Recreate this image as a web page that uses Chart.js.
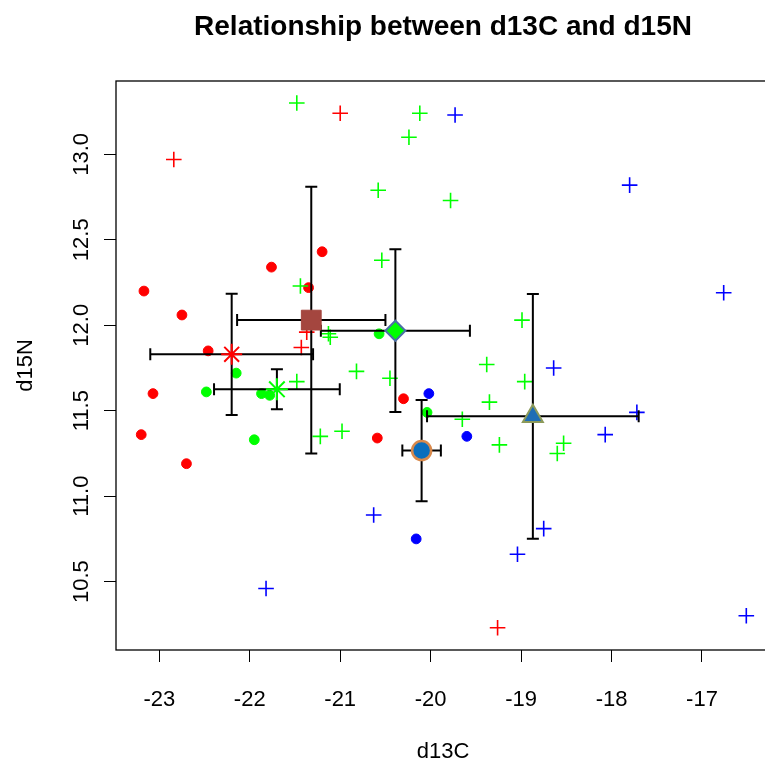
<!DOCTYPE html>
<html>
<head>
<meta charset="utf-8">
<script src="https://cdn.jsdelivr.net/npm/chart.js@4.4.1/dist/chart.umd.min.js"></script>
<style>
  html, body { margin: 0; padding: 0; background: #fff; overflow: hidden; }
  /* the plot box runs past the right edge of the picture, as in the original */
  #wrap { width: 765px; height: 766px; overflow: hidden; }
  #isoChart { display: block; }
</style>
</head>
<body>
<div id="wrap"><canvas id="isoChart" width="785" height="766"></canvas></div>
<script>
// raw samples, [d13C, d15N]
const redDots = [[-21.20, 12.43], [-21.76, 12.34], [-21.35, 12.22], [-23.17, 12.20], [-22.75, 12.06],
  [-22.46, 11.85], [-23.07, 11.60], [-20.30, 11.57], [-20.59, 11.34], [-23.20, 11.36], [-22.70, 11.19]];
const greenDots = [[-22.15, 11.72], [-21.87, 11.60], [-21.78, 11.59], [-22.48, 11.61], [-21.95, 11.33],
  [-20.57, 11.95], [-20.04, 11.49]];
const blueDots = [[-20.02, 11.60], [-19.60, 11.35], [-20.16, 10.75]];
const redPlus = [[-21.00, 13.24], [-22.84, 12.97], [-21.37, 11.96], [-21.43, 11.87], [-19.26, 10.23]];
const greenPlus = [[-21.48, 13.30], [-20.12, 13.24], [-20.24, 13.10], [-20.58, 12.79], [-19.78, 12.73],
  [-20.54, 12.38], [-21.44, 12.23], [-21.13, 11.95], [-21.11, 11.93], [-18.99, 12.03], [-20.82, 11.73],
  [-20.45, 11.69], [-21.48, 11.67], [-21.22, 11.35], [-20.98, 11.38], [-19.38, 11.77], [-18.96, 11.67],
  [-19.35, 11.55], [-19.65, 11.45], [-19.24, 11.30], [-18.53, 11.31], [-18.60, 11.25]];
const bluePlus = [[-19.73, 13.23], [-17.80, 12.82], [-16.76, 12.19], [-18.64, 11.75], [-17.72, 11.49],
  [-18.07, 11.36], [-20.63, 10.89], [-18.75, 10.81], [-19.04, 10.66], [-21.82, 10.46], [-16.51, 10.30]];

// group means with +/- 1 sd
const centroidNames = ['red mean', 'green mean', 'blue mean', 'group A', 'group B', 'group C'];
const centroidX = [-22.20, -21.70, -20.10, -21.32, -20.39, -18.87];
const centroidY = [11.83, 11.625, 11.267, 12.03, 11.968, 11.467];
const sdX = [0.90, 0.695, 0.213, 0.82, 0.824, 1.17];
const sdY = [0.355, 0.117, 0.296, 0.78, 0.476, 0.716];

const xTicks = [-23, -22, -21, -20, -19, -18, -17];
const yTicks = [10.5, 11.0, 11.5, 12.0, 12.5, 13.0];

const FONT = "'Liberation Sans', Arial, sans-serif";
const pts = arr => arr.map(([x, y]) => ({ x, y }));
const one = i => [{ x: centroidX[i], y: centroidY[i] }];

const raw = (label, data, color, style) => ({
  label, data: pts(data), order: 1,
  pointStyle: style,
  pointRadius: style === 'cross' ? 7.8 : 4.9,
  borderWidth: style === 'cross' ? 1.6 : 1,
  borderColor: color, backgroundColor: color
});

const cen = (i, style, r, fill, edge, bw) => ({
  label: centroidNames[i], data: one(i), order: 0,
  pointStyle: style, pointRadius: r,
  backgroundColor: fill, borderColor: edge, borderWidth: bw
});

const errorBars = {
  id: 'errorBars',
  afterDatasetDraw(chart, args) {
    if (args.index !== 0) return; // dataset 0 is the last raw set painted
    const { ctx, scales: { x, y } } = chart;
    const cap = 6;
    ctx.save();
    ctx.strokeStyle = '#000';
    ctx.lineWidth = 2;
    centroidX.forEach((cx, i) => {
      const px = x.getPixelForValue(cx), py = y.getPixelForValue(centroidY[i]);
      const x0 = x.getPixelForValue(cx - sdX[i]), x1 = x.getPixelForValue(cx + sdX[i]);
      const y0 = y.getPixelForValue(centroidY[i] - sdY[i]), y1 = y.getPixelForValue(centroidY[i] + sdY[i]);
      ctx.beginPath();
      ctx.moveTo(x0, py); ctx.lineTo(x1, py);
      ctx.moveTo(x0, py - cap); ctx.lineTo(x0, py + cap);
      ctx.moveTo(x1, py - cap); ctx.lineTo(x1, py + cap);
      ctx.moveTo(px, y0); ctx.lineTo(px, y1);
      ctx.moveTo(px - cap, y0); ctx.lineTo(px + cap, y0);
      ctx.moveTo(px - cap, y1); ctx.lineTo(px + cap, y1);
      ctx.stroke();
    });
    ctx.restore();
  },
  afterDraw(chart) {
    const { ctx, chartArea: a } = chart;
    ctx.save();
    ctx.strokeStyle = '#000';
    ctx.lineWidth = 1.3;
    ctx.strokeRect(a.left, a.top, a.right - a.left, a.bottom - a.top);
    ctx.restore();
  }
};

new Chart(document.getElementById('isoChart'), {
  type: 'scatter',
  data: {
    datasets: [
      raw('red plus', redPlus, '#ff0000', 'cross'),
      raw('green plus', greenPlus, '#00ff00', 'cross'),
      raw('blue plus', bluePlus, '#0000ff', 'cross'),
      raw('red', redDots, '#ff0000', 'circle'),
      raw('green', greenDots, '#00ff00', 'circle'),
      raw('blue', blueDots, '#0000ff', 'circle'),
      cen(0, 'star', 10.5, '#ff0000', '#ff0000', 2),
      cen(1, 'star', 11, '#00ff00', '#00ff00', 2),
      cen(2, 'circle', 9.5, '#0a6ebd', '#d8894c', 2.5),
      cen(3, 'rect', 14, '#a4463f', '#a4463f', 1),
      cen(4, 'rectRot', 10, '#00ff00', '#4a6fa5', 2),
      cen(5, 'triangle', 11.5, '#1f6db5', '#8c9a5a', 2)
    ]
  },
  options: {
    responsive: false,
    animation: false,
    events: [],
    layout: { padding: 0 },
    plugins: {
      legend: { display: false },
      tooltip: { enabled: false },
      title: {
        display: true,
        text: 'Relationship between d13C and d15N',
        color: '#000',
        fullSize: false,
        font: { family: FONT, size: 28, weight: 'bold' },
        padding: { top: 10.2, bottom: 37.2 }
      }
    },
    scales: {
      x: {
        type: 'linear',
        min: -23.479, max: -16.248,
        afterBuildTicks: s => { s.ticks = xTicks.map(v => ({ value: v })); },
        afterFit: s => { s.height = 116; s.paddingLeft = 0; s.paddingRight = 0; },
        grid: { drawOnChartArea: false, drawTicks: true, tickLength: 12, tickColor: '#000', tickWidth: 1 },
        border: { display: false },
        ticks: {
          color: '#000', font: { family: FONT, size: 22 }, padding: 24.8,
          maxRotation: 0, autoSkip: false, callback: v => String(v)
        },
        title: {
          display: true, text: 'd13C', color: '#000',
          font: { family: FONT, size: 22 }, padding: { top: 0, bottom: 0.8 }
        }
      },
      y: {
        type: 'linear',
        min: 10.100, max: 13.429,
        afterBuildTicks: s => { s.ticks = yTicks.map(v => ({ value: v })); },
        afterFit: s => { s.width = 116; s.paddingTop = 0; s.paddingBottom = 0; },
        grid: { drawOnChartArea: false, drawTicks: true, tickLength: 12, tickColor: '#000', tickWidth: 1 },
        border: { display: false },
        ticks: {
          color: '#000', font: { family: FONT, size: 22 }, padding: 1.1,
          minRotation: 90, maxRotation: 90, crossAlign: 'center', autoSkip: false,
          callback: v => Number(v).toFixed(1)
        },
        title: {
          display: true, text: 'd15N', color: '#000',
          font: { family: FONT, size: 22 }, padding: { top: 12.8, bottom: 0 }
        }
      }
    }
  },
  plugins: [errorBars]
});
</script>
</body>
</html>
